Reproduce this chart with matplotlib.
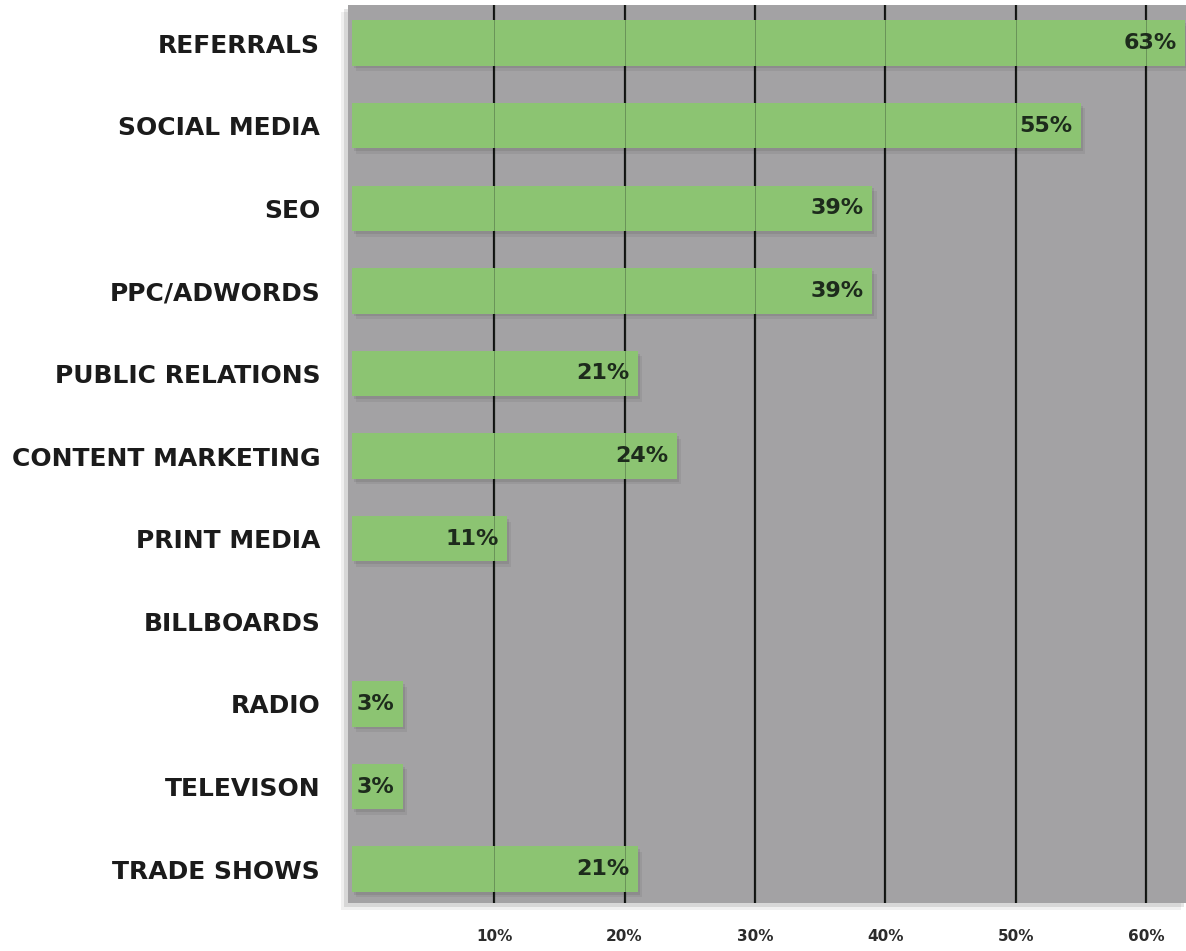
import numpy as np
import matplotlib
matplotlib.use("Agg")
from matplotlib import pyplot as plt
import matplotlib.patheffects as pe

# Chart data (top to bottom)
channels = ["REFERRALS", "SOCIAL MEDIA", "SEO", "PPC/ADWORDS", "PUBLIC RELATIONS",
            "CONTENT MARKETING", "PRINT MEDIA", "BILLBOARDS", "RADIO", "TELEVISON",
            "TRADE SHOWS"]
shares = [63, 55, 39, 39, 21, 24, 11, None, 3, 3, 21]
tickValues = [10, 20, 30, 40, 50, 60]
tickLabels = ["10%", "20%", "30%", "40%", "50%", "60%"]

# Styling
panelColor = "#a3a2a4"
barColor = "#8cc472"
textColor = "#1b1b1b"
valueColor = "#1d2b1c"
barPad = 0.9  # bars start slightly left of zero, like the original

fig = plt.figure(figsize=(11.86, 9.51), dpi=100)
ax = fig.add_axes([348/1186, 48/951, 840/1186, 898/951])
ax.set_facecolor(panelColor)
# Soft drop shadow behind the gray panel
ax.patch.set_path_effects([
    pe.SimplePatchShadow(offset=(-5, -5), shadow_rgbFace="black", alpha=0.06),
    pe.SimplePatchShadow(offset=(-3, -3), shadow_rgbFace="black", alpha=0.1),
    pe.Normal()])

rows = np.arange(len(channels))
# Gridlines under the bars
for tv in tickValues:
    ax.axvline(tv, color="#111111", lw=1.6, zorder=1)

barShadow = [pe.SimplePatchShadow(offset=(3, -4), shadow_rgbFace="black", alpha=0.06),
             pe.SimplePatchShadow(offset=(1.5, -2), shadow_rgbFace="black", alpha=0.08),
             pe.Normal()]
for row, val in zip(rows, shares):
    if val is None:
        continue
    ax.barh(row, val + barPad, left=-barPad, height=0.55, color=barColor, zorder=2,
            path_effects=barShadow)
    ax.annotate(f"{val}%", xy=(val, row), xytext=(-6, 0), textcoords="offset points",
                ha="right", va="center", fontsize=16, fontweight="bold", color=valueColor, zorder=4)

# Faint gridlines showing through the bars
for tv in tickValues:
    ax.axvline(tv, color="#2a3a2a", lw=0.7, alpha=0.35, zorder=3)

ax.set_xlim(-1.2, 63.2)
ax.set_ylim(10.41, -0.46)
ax.set_yticks(rows)
ax.set_yticklabels(channels, fontsize=18, fontweight="bold", color=textColor)
ax.set_xticks(tickValues)
ax.set_xticklabels(tickLabels, fontsize=11, fontweight="bold", color="#2b2b2b")
ax.tick_params(axis="y", length=0, pad=20)
ax.tick_params(axis="x", length=0, pad=19)
for spine in ax.spines.values():
    spine.set_visible(False)

fig.savefig("out.png", dpi=100, facecolor="white")
plt.close(fig)
